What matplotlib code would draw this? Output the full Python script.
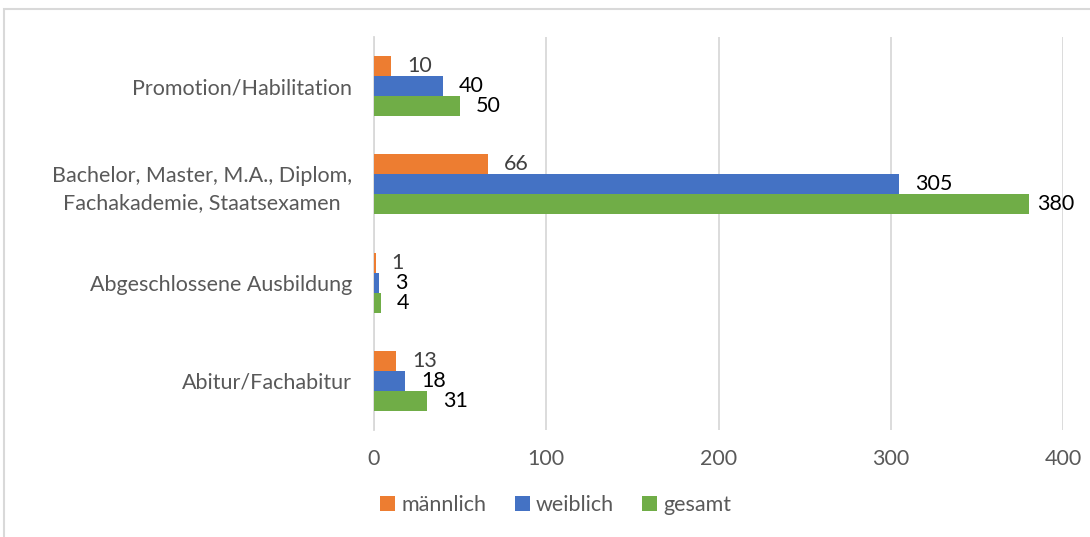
import matplotlib.pyplot as plt
from matplotlib.patches import Rectangle
import numpy as np

# --- Daten ---
kategorien = ['Abitur/Fachabitur', 'Abgeschlossene Ausbildung',
              'Bachelor, Master, M.A., Diplom,\nFachakademie, Staatsexamen',
              'Promotion/Habilitation']
maennlich = [13, 1, 66, 10]
weiblich = [18, 3, 305, 40]
gesamt = [31, 4, 380, 50]
x_ticks = [0, 100, 200, 300, 400]

ORANGE = '#ED7D31'
BLAU = '#4472C4'
GRUEN = '#70AD47'
GRAU_TEXT = '#595959'
GRID = '#D9D9D9'
FS = 15.5

plt.rcParams['font.family'] = ['Lato', 'DejaVu Sans']

fig = plt.figure(figsize=(10.9, 5.37), dpi=100)
ax = fig.add_axes([374 / 1090, 1 - 430 / 537, 689 / 1090, 393 / 537])

# Rahmen des Diagrammbereichs
fig.patches.append(Rectangle((4 / 1090, -0.1), 1.1, 1 - 9 / 537 + 0.1,
                             transform=fig.transFigure, fill=False,
                             edgecolor=GRID, linewidth=1.5))

y = np.arange(len(kategorien))
h = 0.2036

serien = [
    (maennlich, 'männlich', ORANGE, h, '#404040'),
    (weiblich, 'weiblich', BLAU, 0, 'black'),
    (gesamt, 'gesamt', GRUEN, -h, 'black'),
]

for werte, name, farbe, versatz, txtfarbe in serien:
    ax.barh(y + versatz, werte, height=h, color=farbe, label=name, zorder=3)
    for yi, v in zip(y, werte):
        off = 6 if v > 0.9 * x_ticks[-1] else 11.5
        ax.annotate(str(v), xy=(v, yi + versatz), xytext=(off, 0),
                    textcoords='offset points', va='center', ha='left',
                    fontsize=FS, color=txtfarbe, zorder=4)

ax.set_xlim(0, 400)
ax.set_ylim(-0.5, 3.5)
ax.set_xticks(x_ticks)
ax.set_yticks(y)
ax.set_yticklabels(kategorien, multialignment='center', linespacing=1.45)
ax.tick_params(axis='both', length=0, labelsize=FS, labelcolor=GRAU_TEXT)
ax.tick_params(axis='y', pad=16)
ax.tick_params(axis='x', pad=14)
ax.grid(axis='x', color=GRID, linewidth=1.3, zorder=0)
for s in ['top', 'right', 'bottom']:
    ax.spines[s].set_visible(False)
ax.spines['left'].set_color(GRID)
ax.spines['left'].set_linewidth(1.3)

fig.legend(loc='center', bbox_to_anchor=(0.51, 1 - 505 / 537), ncol=3,
           frameon=False, fontsize=FS, labelcolor=GRAU_TEXT,
           handlelength=0.7, handleheight=0.7, handletextpad=0.3,
           columnspacing=1.3)

plt.savefig('out.png', dpi=100)
